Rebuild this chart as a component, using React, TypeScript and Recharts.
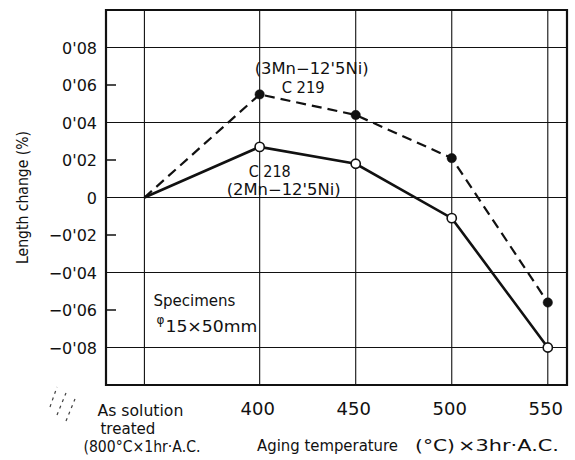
import React from 'react';
import {
  LineChart,
  Line,
  XAxis,
  YAxis,
  CartesianGrid,
  ReferenceArea,
  ReferenceDot,
} from 'recharts';

// Aging temperature (°C); 340 is the slot used for the as-solution-treated state
const temps = [340, 400, 450, 500, 550];
// Length change (%) after aging, two steels
const c219 = [0, 0.055, 0.044, 0.021, -0.056]; // 3Mn-12.5Ni
const c218 = [0, 0.027, 0.018, -0.011, -0.08]; // 2Mn-12.5Ni

const xTicks = [340, 400, 450, 500, 550];
const yTicks = [0.08, 0.06, 0.04, 0.02, 0, -0.02, -0.04, -0.06, -0.08];
const yGridValues = [0.08, 0.04, 0, -0.04, -0.08];

const data = temps.map((t, i) => ({ t, c219: c219[i], c218: c218[i] }));

const FONT = '"DejaVu Sans", "Liberation Sans", sans-serif';
const INK = '#111';
const MINUS = '\u2212';

const fmtY = (v: number) => {
  if (Math.abs(v) < 1e-9) return '0';
  const hundredths = String(Math.round(Math.abs(v) * 100)).padStart(2, '0');
  return (v < 0 ? MINUS : '') + "0'" + hundredths;
};

const YTick = (props: any) => {
  const { x, y, payload } = props;
  const v: number = payload.value;
  const minor = Math.round(Math.abs(v) * 100) % 4 !== 0;
  return (
    <g>
      {minor && <line x1={x} x2={x + 10} y1={y} y2={y} stroke={INK} strokeWidth={1.5} />}
      <text x={x - 9} y={y} dy="0.4em" textAnchor="end" fontFamily={FONT} fontSize={16} fill={INK}>
        {fmtY(v)}
      </text>
    </g>
  );
};

const XTick = (props: any) => {
  const { x, y, payload } = props;
  const v: number = payload.value;
  if (v === 340) {
    return (
      <g fontFamily={FONT} fontSize={15} fill={INK}>
        <text x={x - 47} y={y + 31} textLength={86} lengthAdjust="spacingAndGlyphs">As solution</text>
        <text x={x - 44} y={y + 49} textLength={55} lengthAdjust="spacingAndGlyphs">treated</text>
        <text x={x - 61} y={y + 67} textLength={117} lengthAdjust="spacingAndGlyphs">(800°C×1hr·A.C.</text>
      </g>
    );
  }
  return (
    <text x={x - 2} y={y + 30} textAnchor="middle" fontFamily={FONT} fontSize={18} fill={INK}>
      {v}
    </text>
  );
};

const XTitle = (props: any) => {
  const { viewBox } = props;
  const vx = viewBox.x;
  const vy = viewBox.y;
  return (
    <g>
      <g fontFamily={FONT} fontSize={15} fill={INK}>
        <text x={vx + 151} y={vy + 66} textLength={141} lengthAdjust="spacingAndGlyphs">Aging temperature</text>
        <text x={vx + 309} y={vy + 66} textLength={40} lengthAdjust="spacingAndGlyphs">(°C)</text>
        <text x={vx + 352} y={vy + 66} textLength={101} lengthAdjust="spacingAndGlyphs">×3hr·A.C.</text>
      </g>
      <g stroke={INK} strokeWidth={1.2} strokeDasharray="3 4" opacity={0.8}>
        <line x1={vx - 56} y1={vy + 22} x2={vx - 49} y2={vy + 2} />
        <line x1={vx - 49} y1={vy + 30} x2={vx - 40} y2={vy + 8} />
        <line x1={vx - 40} y1={vy + 36} x2={vx - 31} y2={vy + 14} />
      </g>
    </g>
  );
};

const YTitle = (props: any) => {
  const { viewBox } = props;
  const cx = 23;
  const cy = viewBox.y + viewBox.height / 2;
  return (
    <text
      x={cx}
      y={cy}
      dy="0.35em"
      transform={`rotate(-90, ${cx}, ${cy})`}
      textAnchor="middle"
      fontFamily={FONT}
      fontSize={15}
      fill={INK}
      textLength={133}
      lengthAdjust="spacingAndGlyphs"
    >
      Length change (%)
    </text>
  );
};

const openDot = (p: any) =>
  p.index === 0 ? (
    <g key={`o${p.index}`} />
  ) : (
    <circle key={`o${p.index}`} cx={p.cx} cy={p.cy} r={4.6} fill="#fff" stroke={INK} strokeWidth={1.6} />
  );

const filledDot = (p: any) =>
  p.index === 0 ? (
    <g key={`f${p.index}`} />
  ) : (
    <circle key={`f${p.index}`} cx={p.cx} cy={p.cy} r={4.7} fill={INK} stroke={INK} strokeWidth={0.5} />
  );

const textStyle = { fontFamily: FONT, fontSize: 15, fill: INK };

const C219_NAME = `(3Mn${MINUS}12'5Ni)`;
const C218_NAME = `(2Mn${MINUS}12'5Ni)`;

// Name tags placed relative to the 400°C points of each steel
const C219Tag = (p: any) => (
  <g style={textStyle}>
    <text x={p.cx - 5} y={p.cy - 20} textLength={114} lengthAdjust="spacingAndGlyphs">{C219_NAME}</text>
    <text x={p.cx + 22} y={p.cy - 1} textLength={43} lengthAdjust="spacingAndGlyphs">C 219</text>
  </g>
);

const C218Tag = (p: any) => (
  <g style={textStyle}>
    <text x={p.cx - 11} y={p.cy + 30} textLength={42} lengthAdjust="spacingAndGlyphs">C 218</text>
    <text x={p.cx - 33} y={p.cy + 48} textLength={114} lengthAdjust="spacingAndGlyphs">{C218_NAME}</text>
  </g>
);

const SpecimenNote = (p: any) => (
  <g style={textStyle}>
    <text x={p.cx + 9} y={p.cy + 5} textLength={82} lengthAdjust="spacingAndGlyphs">Specimens</text>
    <text x={p.cx + 12} y={p.cy + 23} fontSize={12}>φ</text>
    <text x={p.cx + 21} y={p.cy + 31} textLength={92} lengthAdjust="spacingAndGlyphs">15×50mm</text>
  </g>
);

export default function App() {
  return (
    <div style={{ position: 'absolute', left: 0, top: 0, background: '#fff' }}>
      <LineChart
        width={575}
        height={460}
        data={data}
        margin={{ top: 10, right: 8, bottom: 0, left: 0 }}
      >
        <CartesianGrid
          stroke={INK}
          strokeWidth={1.1}
          horizontalValues={yGridValues}
          fill="none"
        />
        <XAxis
          dataKey="t"
          type="number"
          domain={[320, 560]}
          ticks={xTicks}
          height={75}
          axisLine={false}
          tickLine={false}
          tickSize={0}
          tickMargin={0}
          tick={<XTick />}
          interval={0}
          label={<XTitle />}
        />
        <YAxis
          type="number"
          domain={[-0.1, 0.1]}
          ticks={yTicks}
          width={106}
          axisLine={false}
          tickLine={false}
          tickSize={0}
          tickMargin={0}
          tick={<YTick />}
          interval={0}
          label={<YTitle />}
        />
        <ReferenceArea
          x1={320}
          x2={560}
          y1={-0.1}
          y2={0.1}
          fill="none"
          fillOpacity={0}
          stroke={INK}
          strokeWidth={2.2}
        />
        <Line
          dataKey="c219"
          stroke={INK}
          strokeWidth={2.2}
          strokeDasharray="10 6"
          dot={filledDot}
          isAnimationActive={false}
        />
        <Line
          dataKey="c218"
          stroke={INK}
          strokeWidth={2.6}
          dot={openDot}
          isAnimationActive={false}
        />
        <ReferenceDot x={temps[1]} y={c219[1]} r={1} shape={C219Tag} />
        <ReferenceDot x={temps[1]} y={c218[1]} r={1} shape={C218Tag} />
        <ReferenceDot x={340} y={-0.055} r={1} shape={SpecimenNote} />
      </LineChart>
    </div>
  );
}
